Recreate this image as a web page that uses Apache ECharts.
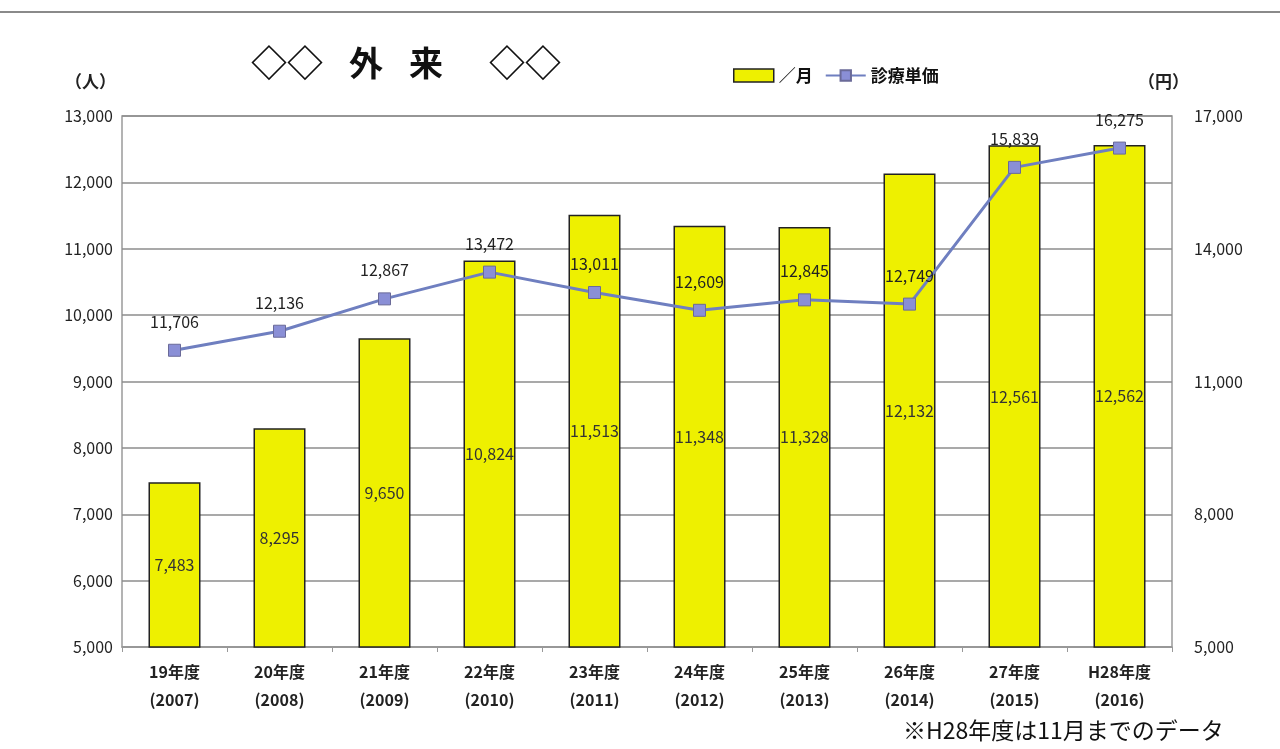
<!DOCTYPE html>
<html>
<head>
<meta charset="utf-8">
<script src="https://cdn.jsdelivr.net/npm/echarts@6/dist/echarts.min.js"></script>
<style>
  html, body { margin: 0; padding: 0; background: #fff; }
  #chart { width: 1280px; height: 749px; }
</style>
</head>
<body>
<div id="chart"></div>
<script>
// 外来: 月平均患者数（棒）と診療単価（折れ線）
const categories = [
  '19年度\n(2007)', '20年度\n(2008)', '21年度\n(2009)', '22年度\n(2010)', '23年度\n(2011)',
  '24年度\n(2012)', '25年度\n(2013)', '26年度\n(2014)', '27年度\n(2015)', 'H28年度\n(2016)'
];
const patientsPerMonth = [7483, 8295, 9650, 10824, 11513, 11348, 11328, 12132, 12561, 12562];
const unitPrice = [11706, 12136, 12867, 13472, 13011, 12609, 12845, 12749, 15839, 16275];
const leftTicks = { min: 5000, max: 13000, interval: 1000 };
const rightTicks = { min: 5000, max: 17000, interval: 3000 };

const fmt = v => v.toLocaleString('en-US');
const fontFamily = '"Noto Sans CJK JP", "Noto Sans", sans-serif';

const chart = echarts.init(document.getElementById('chart'));
chart.setOption({
  backgroundColor: '#fff',
  textStyle: { fontFamily },
  title: {
    text: '{d|◇◇}{s| }{c|外}{s| }{c|来}{s2| }{d|◇◇}',
    left: 246, top: 40,
    textStyle: {
      fontFamily,
      rich: {
        d: { fontSize: 36, fontWeight: 'bold', color: '#111', fontFamily },
        c: { fontSize: 34, fontWeight: 'bold', color: '#111', fontFamily },
        s: { width: 26 },
        s2: { width: 46 }
      }
    }
  },
  legend: {
    left: 728, top: 62,
    itemGap: 12,
    itemWidth: 40, itemHeight: 13,
    textStyle: { fontSize: 17, fontWeight: 'bold', color: '#111', fontFamily },
    data: [
      { name: '／月', icon: 'rect', itemStyle: { color: '#eef000', borderColor: '#222', borderWidth: 1.5 } },
      { name: '診療単価' }
    ]
  },
  grid: {
    left: 122, right: 108, top: 116, bottom: 102,
    show: true, borderColor: '#9a9a9a', borderWidth: 1.5, backgroundColor: '#fff'
  },
  xAxis: {
    type: 'category',
    data: categories,
    axisLine: { lineStyle: { color: '#999', width: 1.5 } },
    axisTick: { show: true, length: 5, lineStyle: { color: '#999' } },
    axisLabel: {
      fontSize: 16, fontWeight: 'bold', color: '#222', lineHeight: 28, margin: 11, fontFamily
    }
  },
  yAxis: [
    {
      type: 'value',
      min: leftTicks.min, max: leftTicks.max, interval: leftTicks.interval,
      name: '（人）',
      nameLocation: 'end',
      nameGap: 26,
      nameTextStyle: { fontSize: 17, fontWeight: 'bold', color: '#222', align: 'right', padding: [0, 6, 0, 0] },
      axisLine: { show: false },
      axisTick: { show: false },
      axisLabel: { fontSize: 16, color: '#222', margin: 9, formatter: fmt },
      splitLine: { lineStyle: { color: '#8c8c8c', width: 1.5 } }
    },
    {
      type: 'value',
      min: rightTicks.min, max: rightTicks.max, interval: rightTicks.interval,
      name: '（円）',
      nameLocation: 'end',
      nameGap: 26,
      nameTextStyle: { fontSize: 17, fontWeight: 'bold', color: '#222', align: 'left', padding: [0, 0, 0, -34] },
      axisLine: { show: false },
      axisTick: { show: false },
      axisLabel: { fontSize: 16, color: '#222', margin: 22, formatter: fmt },
      splitLine: { show: false }
    }
  ],
  series: [
    {
      name: '／月',
      type: 'bar',
      yAxisIndex: 0,
      data: patientsPerMonth,
      barWidth: 52,
      itemStyle: { color: '#eef000', borderColor: '#222', borderWidth: 1.5 },
      label: {
        show: true, position: 'inside', fontSize: 16, color: '#333',
        formatter: p => fmt(p.value)
      },
      z: 2
    },
    {
      name: '診療単価',
      type: 'line',
      yAxisIndex: 1,
      data: unitPrice,
      symbol: 'rect',
      symbolSize: 12,
      lineStyle: { color: '#6f7fc0', width: 3 },
      itemStyle: { color: '#8a8fd6', borderColor: '#6a6a98', borderWidth: 1 },
      label: {
        show: true, position: 'top', distance: 14, fontSize: 16, color: '#222',
        formatter: p => fmt(p.value)
      },
      z: 3
    }
  ],
  graphic: [
    {
      type: 'line',
      shape: { x1: 0, y1: 12, x2: 1280, y2: 12 },
      style: { stroke: '#8a8a8a', lineWidth: 2 }
    },
    {
      type: 'text',
      left: 903, top: 719,
      style: { text: '※H28年度は11月までのデータ', fontSize: 23, fill: '#111', fontFamily }
    }
  ]
});
</script>
</body>
</html>
